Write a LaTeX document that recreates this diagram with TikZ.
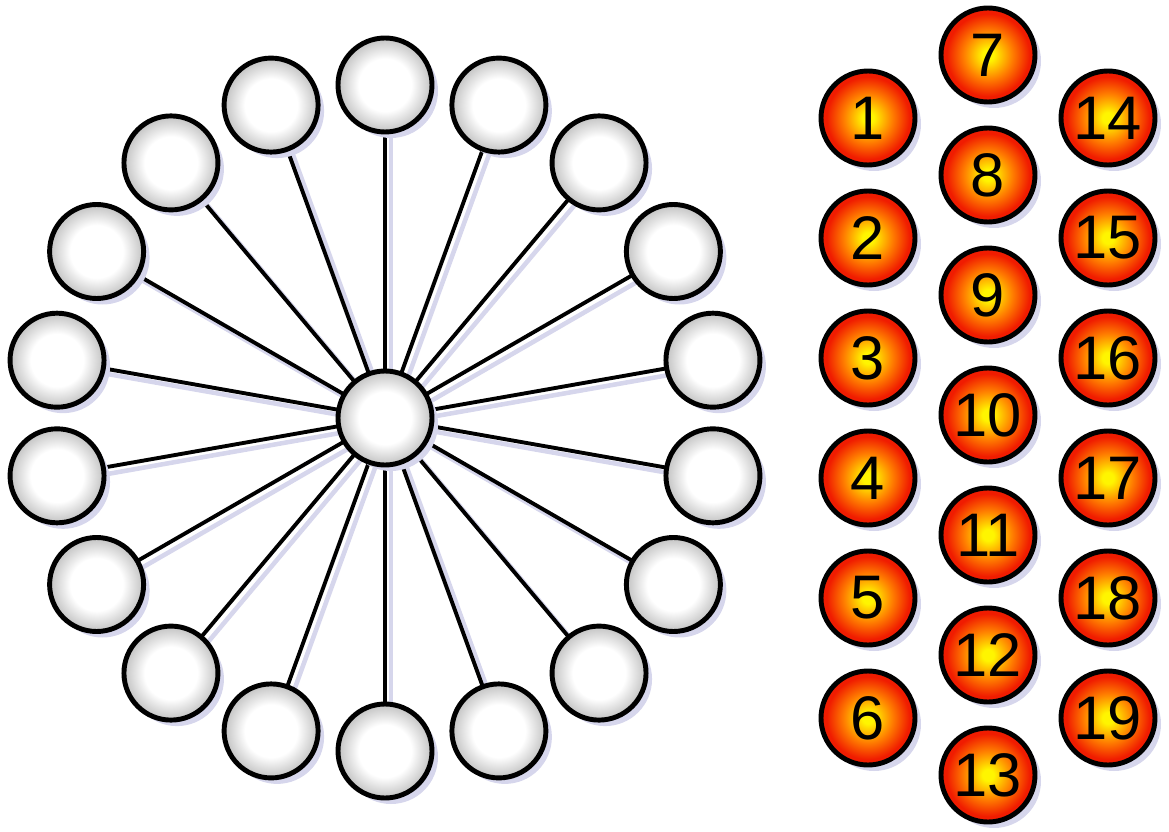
\documentclass[tikz,border=0pt]{standalone}
\usepackage{fontspec}
\setmainfont{Liberation Sans}
\usetikzlibrary{shadows, backgrounds}

\definecolor{lavshadow}{RGB}{214,214,236}
\definecolor{ballred}{RGB}{240,28,0}
\definecolor{ballorange}{RGB}{255,125,0}
\definecolor{ballyellow}{RGB}{255,245,0}

\pgfdeclareradialshading{glass}{\pgfpoint{0bp}{0bp}}{color(0bp)=(white); color(14bp)=(white); color(25bp)=(black!24); color(50bp)=(black!24)}
\pgfdeclareradialshading{fireball}{\pgfpoint{0bp}{0bp}}{color(0bp)=(ballyellow); color(3bp)=(ballyellow); color(13bp)=(ballorange); color(22bp)=(ballred); color(25bp)=(ballred); color(50bp)=(ballred)}

\tikzset{
    blank/.style = {shape = circle, draw = black, line width = 1.4pt, minimum size = 0.94cm,
        shading = glass,
        drop shadow = {shadow xshift = 0.06cm, shadow yshift = -0.06cm, fill = lavshadow, opacity = 1}},
    ball/.style = {shape = circle, draw = black, line width = 1.4pt, minimum size = 0.94cm, inner sep = 0pt,
        shading = fireball,
        font = \fontsize{17.5}{20}\selectfont,
        drop shadow = {shadow xshift = 0.06cm, shadow yshift = -0.06cm, fill = lavshadow, opacity = 1}},
    spoke/.style = {line width = 1.1pt, draw = black},
    spokeshadow/.style = {line width = 1.3pt, draw = lavshadow}
}

\begin{document}
\begin{tikzpicture}
                \useasboundingbox (-3.85, -4.13) rectangle (7.84, 4.18);

                % the star
                \node [blank] (hub) at (0, 0) {};
                \foreach \i in {0,...,17}
                    \node [blank] (s\i) at ({90 + 20*\i}:3.33) {};

                \begin{scope}[on background layer]
                    \foreach \i in {0,...,17} {
                        \draw [spokeshadow] ([shift={(0.06,-0.06)}]hub.center) -- ([shift={(0.06,-0.06)}]s\i.center);
                        \draw [spoke] (hub.center) -- (s\i.center);
                    }
                \end{scope}

                % the numbered balls
                \foreach \n [count = \k from 0] in {1,...,6}
                    \node [ball] (n\n) at (4.83, 3.00 - 1.2*\k) {\n};
                \foreach \n [count = \k from 0] in {7,...,13}
                    \node [ball] (n\n) at (6.03, 3.63 - 1.2*\k) {\n};
                \foreach \n [count = \k from 0] in {14,...,19}
                    \node [ball] (n\n) at (7.23, 3.00 - 1.2*\k) {\n};
            \end{tikzpicture}
\end{document}
